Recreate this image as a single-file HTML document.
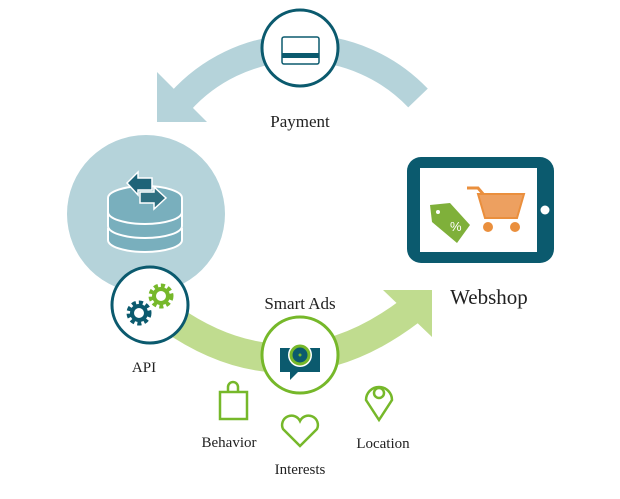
<html><head><style>body{margin:0;background:#fff}text{font-family:"Liberation Serif",serif;fill:#222}</style></head><body>
<svg width="620" height="499" viewBox="0 0 620 499">
<!-- top arc -->
<path d="M418,98 A162,162 0 0 0 180,102" fill="none" stroke="#b5d3da" stroke-width="27"/>
<polygon points="157,72 157,122 207,122" fill="#b5d3da"/>
<!-- green arc -->
<path d="M170,318 Q290,402 410,311" fill="none" stroke="#c0dc8f" stroke-width="29"/>
<polygon points="383,290 432,290 432,337" fill="#c0dc8f"/>
<!-- big circle -->
<circle cx="146" cy="214" r="79" fill="#b5d3da"/>
<g stroke="#fff" stroke-width="2" fill="#79afbd">
<path d="M108,228 v12 a37,12 0 0 0 74,0 v-12"/>
<path d="M108,212 v14 a37,12 0 0 0 74,0 v-14"/>
<ellipse cx="145" cy="198" rx="37" ry="12"/>
<path d="M108,198 v14 a37,12 0 0 0 74,0 v-14"/>
</g>
<polygon points="127,183 138,172 138,178 152,178 152,190 138,190 138,195" fill="#1e6378" stroke="#fff" stroke-width="1.5"/>
<polygon points="166,198 154,209 154,203 140,203 140,192 154,192 154,187" fill="#2f6f80" stroke="#fff" stroke-width="1.5"/>
<!-- payment -->
<circle cx="300" cy="48" r="38" fill="#fff" stroke="#0b5a6e" stroke-width="3"/>
<rect x="282" y="37" width="37" height="27" rx="2" fill="#fff" stroke="#0b5a6e" stroke-width="1.5"/>
<rect x="282" y="53" width="37" height="5" fill="#0b5a6e"/>
<!-- API -->
<circle cx="150" cy="305" r="38" fill="#fff" stroke="#0b5a6e" stroke-width="3"/>
<circle cx="139" cy="313" r="9" fill="none" stroke="#0b5a6e" stroke-width="7" stroke-dasharray="3.5 2.5"/>
<circle cx="139" cy="313" r="7" fill="none" stroke="#0b5a6e" stroke-width="4"/>
<circle cx="161" cy="296" r="9" fill="none" stroke="#76b82a" stroke-width="7" stroke-dasharray="3.5 2.5"/>
<circle cx="161" cy="296" r="7" fill="none" stroke="#76b82a" stroke-width="4"/>
<!-- smart ads -->
<circle cx="300" cy="355" r="38" fill="#fff" stroke="#76b82a" stroke-width="3"/>
<path d="M280,348 h40 v24 h-22 l-8,8 v-8 h-10 z" fill="#0b5a6e"/>
<circle cx="300" cy="355" r="12" fill="#fff"/>
<circle cx="300" cy="355" r="9" fill="#0b5a6e" stroke="#76b82a" stroke-width="3"/>
<circle cx="300" cy="355" r="1.5" fill="#76b82a"/>
<!-- tablet -->
<rect x="407" y="157" width="147" height="106" rx="14" fill="#0b5a6e"/>
<rect x="420" y="168" width="117" height="84" fill="#fff"/>
<circle cx="545" cy="210" r="4.5" fill="#fff"/>
<path d="M467,188 h11 l6,7" fill="none" stroke="#ea8f3d" stroke-width="3"/>
<polygon points="478,194 524,194 517,218 485,218" fill="#eda060" stroke="#ea8f3d" stroke-width="2"/>
<circle cx="488" cy="227" r="5" fill="#ea8f3d"/><circle cx="515" cy="227" r="5" fill="#ea8f3d"/>
<polygon points="430,205 450,203 470,225 457,243 432,222" fill="#7fb03a"/>
<circle cx="438" cy="212" r="2" fill="#fff"/>
<text x="450" y="231" font-size="13" style="fill:#fff;font-family:'Liberation Sans',sans-serif">%</text>
<!-- small icons -->
<g fill="none" stroke="#76b82a" stroke-width="2.5">
<rect x="220" y="392" width="27" height="27"/>
<path d="M228,392 v-5 a5,5 0 0 1 10,0 v5"/>
<path d="M300,446 l-17,-17 a9,9 0 0 1 17,-8 a9,9 0 0 1 17,8 z"/>
<path d="M379,420 l-13,-20 a13,13 0 1 1 26,0 z"/>
<circle cx="379" cy="393" r="5"/>
</g>
<!-- labels -->
<text x="300" y="127" font-size="17" text-anchor="middle">Payment</text>
<text x="300" y="309" font-size="17" text-anchor="middle">Smart Ads</text>
<text x="489" y="304" font-size="21" text-anchor="middle">Webshop</text>
<text x="144" y="372" font-size="15" text-anchor="middle">API</text>
<text x="229" y="447" font-size="15" text-anchor="middle">Behavior</text>
<text x="300" y="474" font-size="15" text-anchor="middle">Interests</text>
<text x="383" y="448" font-size="15" text-anchor="middle">Location</text>
</svg>
</body></html>
